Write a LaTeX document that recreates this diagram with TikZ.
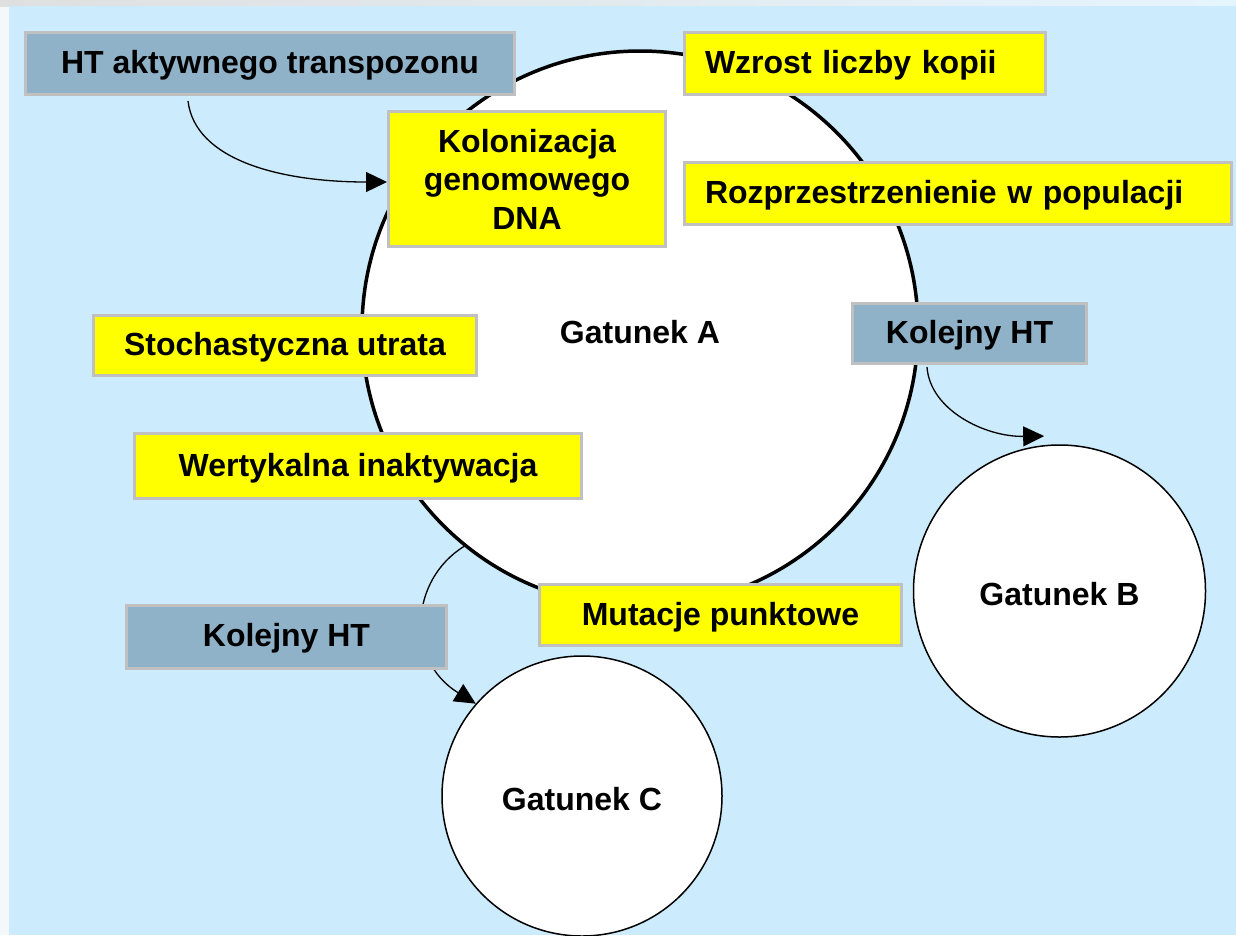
\documentclass[tikz,border=0pt]{standalone}
\usepackage{fontspec}
\setmainfont{Liberation Sans}
\usetikzlibrary{arrows.meta}
\definecolor{bgblue}{RGB}{204,235,252}
\definecolor{edgegray}{RGB}{192,192,192}
\definecolor{steel}{RGB}{143,178,200}
\definecolor{hl}{RGB}{255,255,0}
\definecolor{paper}{RGB}{244,248,250}
\pgfdeclarelayer{back}
\pgfdeclarelayer{mid}
\pgfsetlayers{back,mid,main}
\begin{document}
\begin{tikzpicture}[x=1pt,y=-1pt,
  lbl/.style={font=\fontsize{32}{38.5}\selectfont\bfseries, text=black},
  tbox/.style={lbl, draw=edgegray, line width=3pt, inner sep=0pt, align=center},
  oneline/.style={text height=23pt, text depth=3pt},
  ybox/.style={tbox, fill=hl},
  sbox/.style={tbox, fill=steel},
  species/.style={circle, draw=black, fill=white, inner sep=0pt, lbl,
                  text height=29pt, text depth=0pt},
  link/.style={draw=black, line width=1.3pt, -{Triangle[length=21pt,width=20pt]}}
]
\useasboundingbox (0,0) rectangle (1236,935);

\begin{pgfonlayer}{back}
  % page, top strip and light-blue field
  \fill[paper] (0,0) rectangle (1236,935);
  \shade[left color=gray!25, right color=bgblue!50!white] (0,0) rectangle (1236,6);
  \fill[bgblue] (9,6) rectangle (1236,935);

  % species circles
  \node[species, line width=3.5pt, minimum size=556pt] (A) at (640,329) {Gatunek A};
  \node[species, line width=1.5pt, minimum size=292pt] (B) at (1059.5,591) {Gatunek B};
  \node[species, line width=1.5pt, minimum size=280pt] (C) at (582,796) {Gatunek C};
\end{pgfonlayer}

% labelled boxes
\node[sbox, oneline, minimum width=489pt, minimum height=62pt] (ht) at (270,63.5) {HT aktywnego transpozonu};
\node[ybox, oneline, text width=320pt, inner xsep=20.5pt, align=left, minimum height=62pt] (wz) at (865,63.5) {Wzrost liczby kopii};
\node[ybox, minimum width=277pt, minimum height=135pt] (kol) at (527,179) {Kolonizacja\\genomowego\\DNA};
\node[ybox, oneline, text width=506pt, inner xsep=20.5pt, align=left, minimum height=62pt] (roz) at (958,193.5) {Rozprzestrzenienie w populacji};
\node[ybox, oneline, minimum width=383pt, minimum height=60pt] (sto) at (285,345.5) {Stochastyczna utrata};
\node[sbox, oneline, minimum width=234pt, minimum height=60pt] (khtB) at (969.5,333.5) {Kolejny HT};
\node[ybox, oneline, minimum width=447pt, minimum height=65pt] (wer) at (358,466) {Wertykalna inaktywacja};
\node[ybox, oneline, minimum width=362pt, minimum height=61pt] (mut) at (720.5,615) {Mutacje punktowe};
\node[sbox, oneline, minimum width=320pt, minimum height=63pt] (khtC) at (286.5,636.5) {Kolejny HT};

% connectors, kept beneath the boxes
\begin{pgfonlayer}{mid}
  \draw[link] ([xshift=-82pt,yshift=-5pt]ht.south)
      .. controls (195,160) and (280,182) .. ([yshift=-3pt]kol.west);
  \draw[link] ([xshift=-42.5pt,yshift=-2pt]khtB.south)
      .. controls (930,410) and (985,437) .. ([yshift=9pt]B.96);
  \draw[link] (A.231)
      .. controls (410,580) and (405,660) .. (C.139);
\end{pgfonlayer}
\end{tikzpicture}
\end{document}
